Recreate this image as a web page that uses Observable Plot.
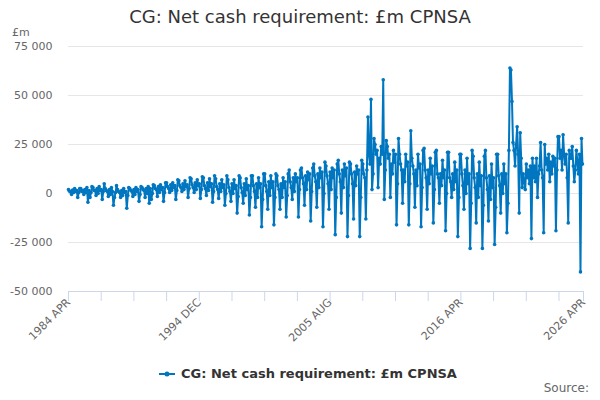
<!DOCTYPE html>
<html>
<head>
<meta charset="utf-8">
<script src="https://cdn.jsdelivr.net/npm/d3@7"></script>
<script src="https://cdn.jsdelivr.net/npm/@observablehq/plot@0.6"></script>
<style>
  body { margin: 0; background: #fff; }
  #wrap { position: relative; width: 600px; height: 400px; font-family: "DejaVu Sans", sans-serif; overflow: hidden; }
  #title { position: absolute; top: 6px; left: 0; width: 600px; text-align: center; font-size: 18px; color: #333; }
  #unit { position: absolute; top: 26px; left: 12px; font-size: 11px; color: #666; }
  #chart { position: absolute; top: 24px; left: 0; }
  #legend { position: absolute; top: 366px; left: 8px; width: 600px; text-align: center; font-size: 13px; font-weight: bold; color: #333; }
  #legend svg { vertical-align: -1px; margin-right: 6px; }
  #source { position: absolute; top: 381px; right: 11px; font-size: 12px; color: #666; }
</style>
</head>
<body>
<div id="wrap">
  <div id="title">CG: Net cash requirement: £m CPNSA</div>
  <div id="unit">£m</div>
  <div id="chart"></div>
  <div id="legend"><svg width="16" height="10"><line x1="0" y1="5" x2="16" y2="5" stroke="#0076c0" stroke-width="2"></line><circle cx="8" cy="5" r="2.5" fill="#0076c0"></circle></svg>CG: Net cash requirement: £m CPNSA</div>
  <div id="source">Source:</div>
</div>
<script>
// Monthly values, £m, fiscal years April..March, starting 1984 APR
const startMonth = "1984 APR";
const values1984to1993 = [
  2000, 1200, 800, -500, 1800, 500, 2500, 1000, 1500, -2000, 500, 2500,
  2500, 1000, 1500, -500, 2000, 500, 3000, -4500, 1500, -2000, 500, 3500,
  3000, 1500, 1500, -1000, 2500, 0, 3500, 1500, 2000, -3000, 1000, 5000,
  2500, 1500, 1000, -1500, 2000, -500, 3000, 1000, -6000, -2000, 500, 4000,
  2000, 1000, 500, -2000, 1500, -1000, 2500, 500, 1000, -7500, -1000, 3000,
  2500, 1500, 1000, -1500, 2000, -500, 3000, 1000, 2000, -4000, -500, 3500,
  3000, 2000, 1500, -2000, 2500, 0, 3500, -5000, 2500, -3000, 0, 4500,
  4000, 2500, 2000, -1500, 3500, 500, 4500, 2000, 3000, -4000, 500, 5500,
  5500, 3500, 2500, 500, 4500, 1500, 5500, 3000, 4000, -3000, 1500, 7000,
  6500, 4000, 3000, 1000, 5000, 2000, 6500, 3500, 4500, -2000, 2500, 8000
];
const values1994to2003 = [
  7500, 4500, 3000, 500, 5500, 2000, 7000, 4000, 5000, -2500, 2000, 8500,
  8000, 4000, 2500, -1000, 5500, 1500, 7500, 3500, 5000, -4500, 1000, 9000,
  7500, 3500, 2000, -2500, 5000, 1000, 7000, 3000, 4500, -6000, 0, 9000,
  7000, 3000, 1000, -4000, 5000, 0, 7000, 2500, 4000, -10000, -1500, 9000,
  8000, 3000, 500, -5000, 5000, -1000, 7500, 2000, 4000, -11000, -2000, 9000,
  9000, 4000, 1000, -7000, 5000, -2000, 8000, 3000, 5000, -17000, -3000, 10000,
  10000, 4000, 1000, -8000, 6000, -1000, 9000, 3000, 6000, -16000, -2000, 10000,
  9000, 4000, 2000, -8000, 5000, -2000, 8000, 3000, 6000, -12000, -1000, 10000,
  12000, 6000, 3000, -3000, 8000, 1000, 10000, 6000, 8000, -12000, 2000, 12000,
  13000, 8000, 5000, -6000, 9000, 2000, 11000, 7000, 10000, -14000, 1000, 13000
];
const values2004to2013 = [
  15000, 9000, 6000, -7000, 10000, 3000, 13000, 8000, 11000, -17000, 0, 16000,
  14000, 9000, 5000, -8000, 11000, 2000, 13000, 8000, 12000, -21000, -2000, 15000,
  17000, 10000, 6000, -10000, 12000, 3000, 15000, 9000, 13000, -22000, -1000, 16000,
  15000, 10000, 5000, -13000, 11000, 4000, 14000, 10000, 12000, -22000, -2000, 17000,
  15000, 10000, 8000, -13000, 12000, 39000, 20000, 15000, 48000, 2000, 10000, 28000,
  25000, 20000, 22000, 3000, 18000, 15000, 24000, 20000, 58000, -3000, 12000, 27000,
  24000, 18000, 20000, -2000, 15000, 10000, 22000, 16000, 20000, -16000, 5000, 28000,
  20000, 15000, 12000, -5000, 12000, 6000, 20000, 14000, 16000, -16000, 5000, 32000,
  18000, 14000, 10000, -7000, 12000, 4000, 20000, 13000, 15000, -17000, 3000, 22000,
  23000, 12000, 8000, -8000, 12000, 5000, 18000, 10000, 14000, -15000, 2000, 21000
];
const values2014to2025 = [
  22000, 10000, 8000, -5000, 10000, 4000, 17000, 8000, 12000, -19000, 0, 21000,
  21000, 8000, 6000, -2000, 10000, 2000, 16000, 6000, 12000, -22000, -2000, 20000,
  20000, 10000, 4000, -8000, 12000, 0, 18000, 5000, 10000, -28000, -5000, 22000,
  19000, 8000, 3000, -15000, 10000, -2000, 16000, 4000, 9000, -28000, -6000, 19000,
  22000, 8000, 2000, -14000, 9000, -3000, 15000, 3000, 8000, -26000, -7000, 20000,
  20000, 9000, 4000, -10000, 10000, 0, 15000, 5000, 10000, -20000, -5000, 22000,
  64000, 63000, 47000, 26000, 22000, 14000, 25000, 34000, 20000, -10000, 31000, 18000,
  3000, 10000, 6000, 2000, 15000, 8000, 12000, 5000, 14000, -23000, 18000, 8000,
  14000, 6000, 18000, -2000, 10000, 14000, 26000, 12000, 8000, -20000, 25000, 15000,
  18000, 12000, 20000, 6000, 16000, 10000, 19000, 14000, 18000, -19000, 12000, 29000,
  29000, 18000, 22000, 12000, 30000, 20000, 15000, 20000, 8000, -15000, 22000, 18000,
  18000, 24000, 14000, 6000, 12000, 22000, 16000, 10000, 20000, -40000, 28000, 15000
];
const xTickLabels = ["1984 APR", "1994 DEC", "2005 AUG", "2016 APR", "2026 APR"];
const yTicks = [-50000, -25000, 0, 25000, 50000, 75000];

const parseMonth = d3.utcParse("%Y %b");
const start = parseMonth(startMonth);
const allValues = [...values1984to1993, ...values1994to2003, ...values2004to2013, ...values2014to2025];
const data = allValues.map((v, i) => ({date: d3.utcMonth.offset(start, i), value: v}));

const labelDates = xTickLabels.map(parseMonth);
const end = labelDates[labelDates.length - 1];
const minorTicks = d3.utcMonth.every(1).range(start, end).filter((d, i) => i % 32 === 0).concat([end]);
const labelMap = new Map(labelDates.map((d, i) => [+d, xTickLabels[i]]));

const fmt = d => d3.format(",")(d).replace(/,/g, " ").replace("−", "-");
const color = "#0076c0";

const chart = Plot.plot({
  width: 600,
  height: 330,
  marginLeft: 68,
  marginRight: 17,
  marginTop: 22,
  marginBottom: 63,
  style: {fontFamily: "DejaVu Sans, sans-serif", fontSize: "11px", background: "transparent"},
  x: {type: "utc", domain: [start, end]},
  y: {domain: [-50000, 75000]},
  marks: [
    Plot.gridY(yTicks, {stroke: "#e6e6e6", strokeOpacity: 1}),
    Plot.axisY(yTicks, {tickSize: 0, tickPadding: 16, tickFormat: fmt, fill: "#666", label: null}),
    Plot.frame({anchor: "bottom", stroke: "#ccd6eb"}),
    Plot.axisX(minorTicks, {tickSize: 10, stroke: "#ccd6eb", strokeOpacity: 1, tickFormat: () => "", label: null}),
    Plot.axisX(labelDates, {tickSize: 0, tickPadding: 9, tickRotate: -45, tickFormat: d => labelMap.get(+d), fill: "#666", label: null}),
    Plot.lineY(data, {x: "date", y: "value", stroke: color, strokeWidth: 2}),
    Plot.dot(data, {x: "date", y: "value", r: 1.8, fill: color})
  ]
});
document.getElementById("chart").appendChild(chart);
</script>
</body>
</html>
